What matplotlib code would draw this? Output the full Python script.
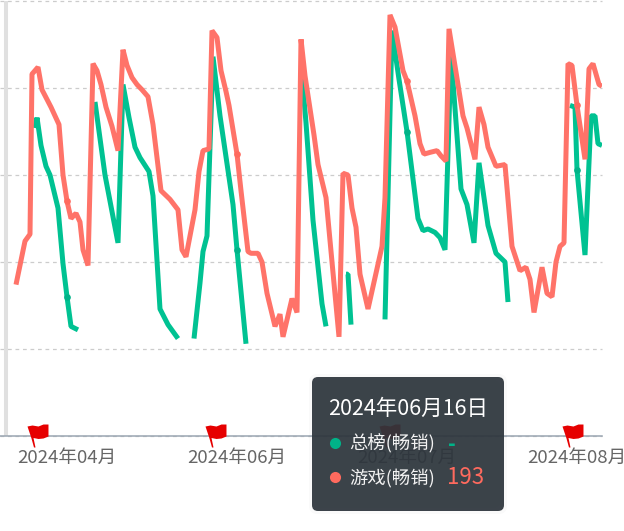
import numpy as np
import matplotlib
matplotlib.use("Agg")
import matplotlib.pyplot as plt
from matplotlib.patches import FancyBboxPatch
from matplotlib.path import Path

plt.rcParams['font.family'] = ['Noto Sans CJK SC', 'DejaVu Sans']

# x is a position on the category axis, y is the chart rank (inverted axis)
tick_x = [67, 237, 407, 577]
tick_labels = ['2024年04月', '2024年06月', '2024年07月', '2024年08月']
rank_ticks = [0, 50, 100, 150, 200, 250]
flag_x = [35, 213, 387, 570]

game_x = [16, 25, 30, 32, 38, 42, 51, 59, 63, 67,
          71, 76, 80, 83, 88, 93, 97, 101, 106, 112,
          118, 123, 127, 132, 137, 142, 148, 153, 161, 170,
          178, 182, 186, 195, 199, 203, 209, 212, 217, 221,
          226, 229, 237, 241, 248, 251, 258, 262, 267, 275,
          280, 283, 292, 297, 301, 305, 314, 318, 326, 339,
          343, 348, 352, 356, 360, 368, 382, 385, 390, 395,
          403, 407, 415, 420, 424, 430, 437, 441, 446, 449,
          458, 463, 467, 475, 479, 484, 488, 496, 505, 508,
          512, 520, 526, 530, 534, 542, 547, 552, 556, 560,
          564, 568, 572, 577, 585, 589, 593, 599, 602]
game_rank = [163, 138, 134, 42, 38, 51, 61, 71, 100, 115,
             125, 122, 127, 143, 152, 36, 40, 48, 61, 72,
             86, 28, 37, 44, 48, 51, 55, 71, 109, 114,
             120, 143, 147, 120, 98, 86, 85, 17, 21, 40,
             52, 60, 88, 109, 144, 145, 145, 150, 168, 187,
             180, 193, 171, 179, 22, 43, 77, 94, 113, 193,
             99, 100, 119, 130, 157, 177, 141, 113, 8, 15,
             40, 46, 66, 82, 88, 87, 86, 89, 92, 16,
             48, 66, 73, 91, 61, 71, 84, 95, 94, 114,
             141, 155, 153, 160, 179, 153, 168, 170, 150, 141,
             139, 36, 37, 60, 91, 39, 36, 48, 49]

# nan = no value that day, the line breaks
total_x = [35, 37, 41, 46, 50, 58, 63, 67, 71, 78, np.nan,
           95, 105, 118, 123, 129, 135, 140, 149, 153, 160, 168, 178, np.nan,
           194, 200, 203, 207, 213, 220, 233, 237, 246, np.nan,
           302, 306, 313, 322, 326, np.nan,
           346, 348, 351, np.nan,
           385, 392, 399, 407, 418, 423, 428, 435, 440, 445,
           451, 461, 467, 474, 479, 488, 496, 505, 508, np.nan,
           570, 575, 577, 585, 591, 595, 598, 602]
total_rank = [73, 67, 83, 95, 100, 119, 151, 170, 187, 189, np.nan,
              58, 100, 139, 48, 67, 84, 90, 98, 112, 177, 186, 194, np.nan,
              194, 162, 144, 135, 32, 66, 117, 143, 197, np.nan,
              43, 70, 126, 174, 187, np.nan,
              157, 157, 186, np.nan,
              183, 17, 45, 75, 125, 132, 131, 133, 136, 143,
              31, 108, 117, 139, 93, 129, 145, 150, 173, np.nan,
              60, 61, 97, 146, 66, 66, 82, 83]

GREEN = '#00c292'
RED = '#ff7369'

W, H = 624, 531
fig = plt.figure(figsize=(W / 100, H / 100), dpi=100)
ax = fig.add_axes([0, (H - 436) / H, 602 / W, 435 / H])

game_x = np.array(game_x, dtype=float)
game_rank = np.array(game_rank, dtype=float)
total_x = np.array(total_x, dtype=float)
total_rank = np.array(total_rank, dtype=float)

ax.plot(total_x, total_rank, color=GREEN, lw=3.6, solid_joinstyle='bevel', solid_capstyle='butt', zorder=3)
ax.plot(game_x, game_rank, color=RED, lw=3.6, solid_joinstyle='bevel', solid_capstyle='butt', zorder=4)

# the series only show a symbol on the labelled categories
m = np.isin(total_x, tick_x)
ax.plot(total_x[m], total_rank[m], 'o', color='#00b388', ms=4.8, mew=0, zorder=3)
m = np.isin(game_x, tick_x)
ax.plot(game_x[m], game_rank[m], 'o', color='#ff6a5e', ms=4.8, mew=0, zorder=4)

ax.set_xlim(0, 602)
ax.set_ylim(250, 0)
ax.set_xticks(tick_x)
ax.set_xticklabels(tick_labels, fontsize=13.4, color='#666666')
ax.set_yticks(rank_ticks)
ax.tick_params(axis='x', length=0, pad=9.5)
ax.tick_params(axis='y', length=0, labelleft=False)
ax.grid(axis='y', color='#cccccc', lw=0.9, ls=(0, (3, 3)))
for g in ax.get_ygridlines():
    g.set_clip_on(False)
ax.set_axisbelow(True)
for s in ['top', 'left', 'right']:
    ax.spines[s].set_visible(False)
ax.spines['bottom'].set_color('#9aa5b1')
ax.spines['bottom'].set_linewidth(1.1)
ax.spines['bottom'].set_zorder(2)
ax.axvline(6, color='#e0e0e0', lw=2.9, zorder=1)

# flag marker, pixel offsets from the foot of the flag on the axis line
flag_verts = [(-8, 10), (-3, 11), (3, 10), (8, 12), (13, 12), (13, 0), (8, -2), (3, -2.5),
              (-2, -1.5), (0, -11), (-1.5, -11), (-4, -2), (-8, 10)]
flag = Path(flag_verts, closed=True)
ax.plot(flag_x, [250] * len(flag_x), ls='none', marker=flag, ms=18.7, color='#e60000', mew=0,
        clip_on=False, zorder=5)

# tooltip on a pixel sized overlay
ov = fig.add_axes([0, 0, 1, 1], zorder=10)
ov.set_xlim(0, W)
ov.set_ylim(H, 0)
ov.axis('off')
ov.patch.set_alpha(0)

for grow, a in [(9, 0.02), (6, 0.03), (3, 0.04)]:
    ov.add_patch(FancyBboxPatch((318 - grow, 383 - grow), 180 + 2 * grow, 122 + 2 * grow,
                                boxstyle='round,pad=0,rounding_size=8', fc='black', ec='none', alpha=a))
ov.add_patch(FancyBboxPatch((318, 383), 180, 122, boxstyle='round,pad=6,rounding_size=6',
                            fc='#2e363d', ec='none', alpha=0.93))
ov.text(408, 409, '2024年06月16日', color='white', fontsize=15.5, ha='center', va='center')
ov.plot([335], [443], 'o', color='#00b388', ms=8, mew=0)
ov.plot([335], [477], 'o', color='#ff6a5e', ms=8, mew=0)
ov.text(349, 444, '总榜(畅销)', color='#f2f2f2', fontsize=13.2, ha='left', va='center')
ov.text(349, 478, '游戏(畅销)', color='#f2f2f2', fontsize=13.2, ha='left', va='center')
ov.text(452, 444, '-', color='#00b388', fontsize=15, fontweight='bold', ha='center', va='center')
ov.text(466, 478, '193', color='#ff6a5e', fontsize=16, ha='center', va='center')

fig.savefig('out.png', dpi=100)
